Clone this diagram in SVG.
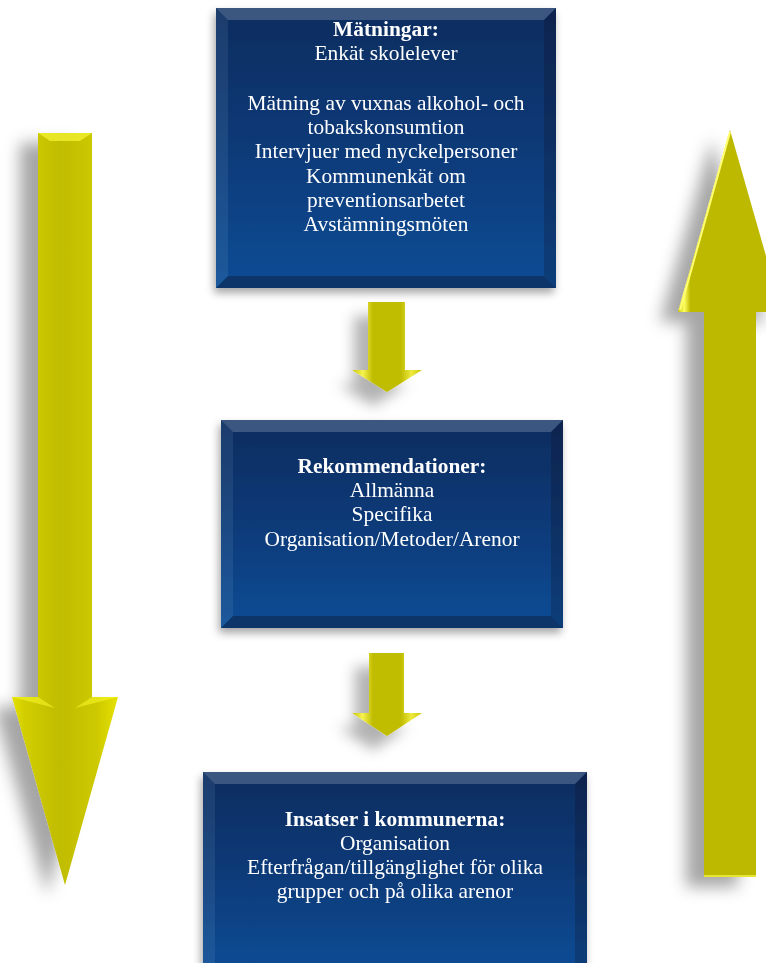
<svg xmlns="http://www.w3.org/2000/svg" width="766" height="963" viewBox="0 0 766 963">
<defs>
  <filter id="sh" x="-60%" y="-20%" width="220%" height="150%">
    <feGaussianBlur in="SourceAlpha" stdDeviation="8"/>
    <feOffset dx="-18" dy="10" result="b"/>
    <feFlood flood-color="#000" flood-opacity="0.35"/>
    <feComposite in2="b" operator="in"/>
    <feMerge><feMergeNode/><feMergeNode in="SourceGraphic"/></feMerge>
  </filter>
  <filter id="shs" x="-60%" y="-30%" width="220%" height="170%">
    <feGaussianBlur in="SourceAlpha" stdDeviation="7"/>
    <feOffset dx="-14" dy="14" result="b"/>
    <feFlood flood-color="#000" flood-opacity="0.3"/>
    <feComposite in2="b" operator="in"/>
    <feMerge><feMergeNode/><feMergeNode in="SourceGraphic"/></feMerge>
  </filter>
  <filter id="shb" x="-20%" y="-20%" width="140%" height="150%">
    <feGaussianBlur in="SourceAlpha" stdDeviation="4"/>
    <feOffset dx="-2" dy="5" result="b"/>
    <feFlood flood-color="#000" flood-opacity="0.35"/>
    <feComposite in2="b" operator="in"/>
    <feMerge><feMergeNode/><feMergeNode in="SourceGraphic"/></feMerge>
  </filter>
  <linearGradient id="bg" x1="0" y1="0" x2="0" y2="1">
    <stop offset="0" stop-color="#0b2c5f"/>
    <stop offset="0.5" stop-color="#0c3a78"/>
    <stop offset="1" stop-color="#0b4c95"/>
  </linearGradient>
  <linearGradient id="yl" x1="0" y1="0" x2="1" y2="0">
    <stop offset="0" stop-color="#e4e000"/>
    <stop offset="0.12" stop-color="#d2ce00"/>
    <stop offset="0.45" stop-color="#c0bc00"/>
    <stop offset="0.8" stop-color="#cdc900"/>
    <stop offset="1" stop-color="#e6e200"/>
  </linearGradient>
  <linearGradient id="yr" x1="0" y1="0" x2="1" y2="0">
    <stop offset="0" stop-color="#c6c200"/>
    <stop offset="0.06" stop-color="#ffff60"/>
    <stop offset="0.12" stop-color="#bdb900"/>
    <stop offset="0.88" stop-color="#bdb900"/>
    <stop offset="0.94" stop-color="#f4f040"/>
    <stop offset="1" stop-color="#c6c200"/>
  </linearGradient>
  <linearGradient id="ys" x1="0" y1="0" x2="1" y2="0">
    <stop offset="0" stop-color="#c8c400"/>
    <stop offset="0.15" stop-color="#f6f250"/>
    <stop offset="0.3" stop-color="#c0bc00"/>
    <stop offset="0.7" stop-color="#c0bc00"/>
    <stop offset="0.85" stop-color="#eeea40"/>
    <stop offset="1" stop-color="#c8c400"/>
  </linearGradient>
  <style>
    .t{font-family:"Liberation Serif","Times New Roman",serif;font-size:21.4px;fill:#fff;text-anchor:middle}
    .b{font-weight:bold}
    .hl{fill:#fff;opacity:0.2}
    .hl2{fill:#fff;opacity:0.08}
    .dk{fill:#000;opacity:0.18}
    .dk2{fill:#000;opacity:0.28}
  </style>
</defs>
<rect width="766" height="963" fill="#fff"/>

<g id="connectors">
  <g id="left-arrow" filter="url(#sh)">
    <polygon points="38,133 92,133 92,697 118,697 65,885 12,697 38,697" fill="url(#yl)"/>
    <polygon points="38,133 92,133 80,141 50,141" fill="#ffff40" opacity="0.6"/>
    <polygon points="12,697 38,697 55,708" fill="#ffff30" opacity="0.5"/>
    <polygon points="92,697 118,697 75,708" fill="#ffff30" opacity="0.5"/>
  </g>
  <g id="right-arrow" filter="url(#sh)">
    <polygon points="730,130 782,312 756,312 756,876 704,876 704,312 678,312" fill="url(#yr)"/>
    <polyline points="730,132 680,310" stroke="#ffff70" stroke-width="2" fill="none"/>
    <polyline points="704,876 756,876" stroke="#e8e430" stroke-width="2" fill="none"/>
  </g>
  <g id="arrow-1" filter="url(#shs)">
    <polygon points="368,302 405,302 405,370 422,370 387,392 352,370 368,370" fill="url(#ys)"/>
  </g>
  <g id="arrow-2" filter="url(#shs)">
    <polygon points="369,653 404,653 404,713 422,713 387,736 352,713 369,713" fill="url(#ys)"/>
  </g>
</g>

<g id="node-matningar" filter="url(#shb)">
  <rect x="216" y="8" width="340" height="280" fill="url(#bg)"/>
  <polygon class="hl" points="216,8 556,8 544,20 228,20"/>
  <polygon class="hl2" points="216,8 228,20 228,276 216,288"/>
  <polygon class="dk" points="556,8 556,288 544,276 544,20"/>
  <polygon class="dk2" points="216,288 556,288 544,276 228,276"/>
  <text class="t b" x="386" y="36">Mätningar:</text>
  <text class="t" x="386" y="60">Enkät skolelever</text>
  <text class="t" x="386" y="110">Mätning av vuxnas alkohol- och</text>
  <text class="t" x="386" y="134">tobakskonsumtion</text>
  <text class="t" x="386" y="158">Intervjuer med nyckelpersoner</text>
  <text class="t" x="386" y="183">Kommunenkät om</text>
  <text class="t" x="386" y="207">preventionsarbetet</text>
  <text class="t" x="386" y="231">Avstämningsmöten</text>
</g>

<g id="node-rekommendationer" filter="url(#shb)">
  <rect x="221" y="420" width="342" height="208" fill="url(#bg)"/>
  <polygon class="hl" points="221,420 563,420 551,432 233,432"/>
  <polygon class="hl2" points="221,420 233,432 233,616 221,628"/>
  <polygon class="dk" points="563,420 563,628 551,616 551,432"/>
  <polygon class="dk2" points="221,628 563,628 551,616 233,616"/>
  <text class="t b" x="392" y="473">Rekommendationer:</text>
  <text class="t" x="392" y="497">Allmänna</text>
  <text class="t" x="392" y="521">Specifika</text>
  <text class="t" x="392" y="546">Organisation/Metoder/Arenor</text>
</g>

<g id="node-insatser" filter="url(#shb)">
  <rect x="203" y="772" width="384" height="200" fill="url(#bg)"/>
  <polygon class="hl" points="203,772 587,772 575,784 215,784"/>
  <polygon class="hl2" points="203,772 215,784 215,972 203,972"/>
  <polygon class="dk" points="587,772 587,972 575,972 575,784"/>
  <text class="t b" x="395" y="826">Insatser i kommunerna:</text>
  <text class="t" x="395" y="850">Organisation</text>
  <text class="t" x="395" y="874">Efterfrågan/tillgänglighet för olika</text>
  <text class="t" x="395" y="898">grupper och på olika arenor</text>
</g>
</svg>
